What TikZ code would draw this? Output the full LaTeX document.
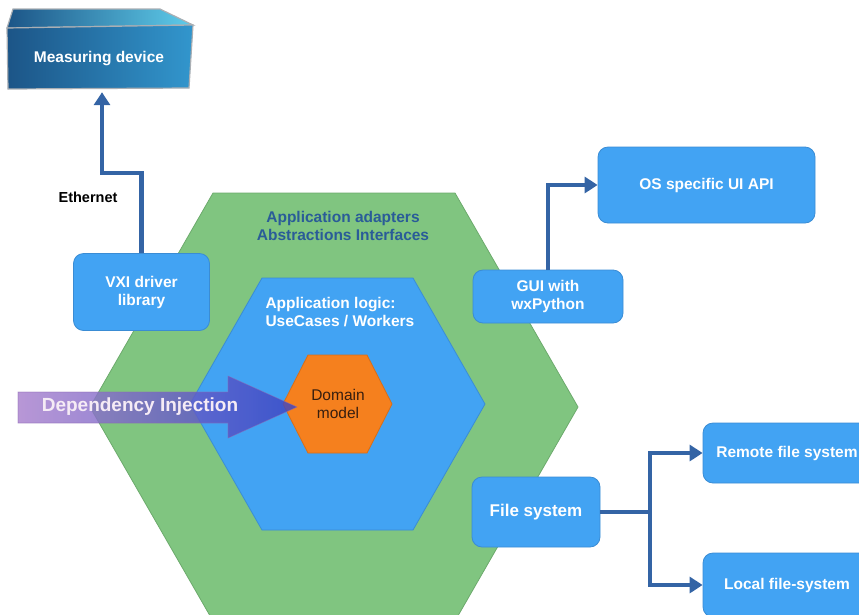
\documentclass[tikz,border=0pt]{standalone}
\usepackage{fontspec}
\setmainfont{Liberation Sans}
\usetikzlibrary{arrows.meta,calc}

\definecolor{hexgreen}{RGB}{128,197,128}
\definecolor{hexgreenline}{RGB}{108,170,108}
\definecolor{boxblue}{RGB}{66,163,243}
\definecolor{boxline}{RGB}{58,140,212}
\definecolor{domorange}{RGB}{245,128,30}
\definecolor{domline}{RGB}{215,110,25}
\definecolor{arrowblue}{RGB}{52,100,165}
\definecolor{labelblue}{RGB}{42,92,152}
\definecolor{domtext}{RGB}{55,30,15}
\definecolor{dipurple}{RGB}{168,128,205}
\definecolor{dimid}{RGB}{95,85,165}
\definecolor{diblue}{RGB}{58,68,195}
\definecolor{diedge}{RGB}{140,105,180}
\definecolor{devdark}{RGB}{28,85,135}
\definecolor{devlight}{RGB}{50,150,205}
\definecolor{devtop}{RGB}{95,205,235}
\definecolor{devedge}{RGB}{170,175,180}

\begin{document}
\begin{tikzpicture}[x=1pt,y=-1pt,
  boxfont/.style={font=\fontsize{15.5}{18}\selectfont\bfseries},
  box/.style={draw=boxline, fill=boxblue, rounded corners=10pt, line width=0.8pt,
    text=white, boxfont, align=center, inner sep=0pt},
  conn/.style={draw=arrowblue, line width=4.5pt,
    -{Triangle[length=13pt,width=16pt]}},
]
\useasboundingbox (0,0) rectangle (859,614);
\clip (0,0) rectangle (859,614);

% layers of the architecture
\draw[fill=hexgreen, draw=hexgreenline, line width=0.8pt]
  (90,407) -- (213,193) -- (455,193) -- (578,407) -- (455,621) -- (213,621) -- cycle;
\draw[fill=boxblue, draw=boxline, line width=0.8pt]
  (190,404) -- (262,278) -- (413,278) -- (485,404) -- (413,530) -- (262,530) -- cycle;
\draw[fill=domorange, draw=domline, line width=0.8pt]
  (283,404) -- (308,355) -- (367,355) -- (392,404) -- (367,453) -- (308,453) -- cycle;

\node[boxfont, text=labelblue, align=center] (adapters) at (343,226)
  {Application adapters\\Abstractions Interfaces};
\node[boxfont, text=white, align=left, anchor=west] (logic) at (262,312.5)
  {Application logic:\\UseCases / Workers};
\node[font=\fontsize{15.5}{18}\selectfont, text=domtext, align=center] (dom) at (338,404)
  {Domain\\model};

% dependency injection arrow
\shade[left color=dipurple, middle color=dimid, right color=diblue, opacity=0.82,
       draw=diedge, draw opacity=0.6, line width=0.6pt]
  (18,392) -- (228,392) -- (228,376) -- (297,407) -- (228,438) -- (228,423) -- (18,423) -- cycle;
\node[font=\fontsize{19}{22}\selectfont\bfseries, text=white!92!violet] (di) at (140,407)
  {Dependency Injection};

% measuring device
\shade[left color=devdark, right color=devtop, draw=devedge, line width=1.2pt]
  (7,28) -- (13,9) -- (160,9) -- (193,25) -- cycle;
\shade[left color=devdark, right color=devlight, draw=devedge, line width=1.2pt]
  (7,28) -- (193,25) -- (189,88) -- (8,89) -- cycle;
\node[boxfont, text=white, minimum width=182pt, minimum height=60pt, inner sep=0pt]
  (dev) at (99,59) {Measuring device};

% adapters
\node[box, minimum width=136pt, minimum height=77pt] (vxi) at (141.5,292) {VXI driver\\library};
\node[box, minimum width=150pt, minimum height=53pt] (gui) at (548,296.5) {GUI with\\wxPython};
\node[box, minimum width=217pt, minimum height=76pt] (os) at (706.5,185) {OS specific UI API};
\node[box, minimum width=128pt, minimum height=70pt, font=\fontsize{17}{20}\selectfont\bfseries]
  (fs) at (536,512) {File system};
\node[box, minimum width=168pt, minimum height=60pt] (remote) at (787,453) {Remote file system};
\node[box, minimum width=168pt, minimum height=64pt] (local) at (787,585) {Local file-system};

% connections
\coordinate (eth) at (102,173);
\draw[conn, shorten >=3pt] (vxi.north) |- (eth) -- (eth |- dev.south);
\node[font=\fontsize{14.5}{17}\selectfont\bfseries] (ethlabel) at (88,197) {Ethernet};

\draw[conn] (gui.north) |- (os.west);

\coordinate (split) at (650,512);
\draw[conn] (fs.east) -- (split) |- (remote.west);
\draw[conn] (split) |- (local.west);
\end{tikzpicture}
\end{document}
